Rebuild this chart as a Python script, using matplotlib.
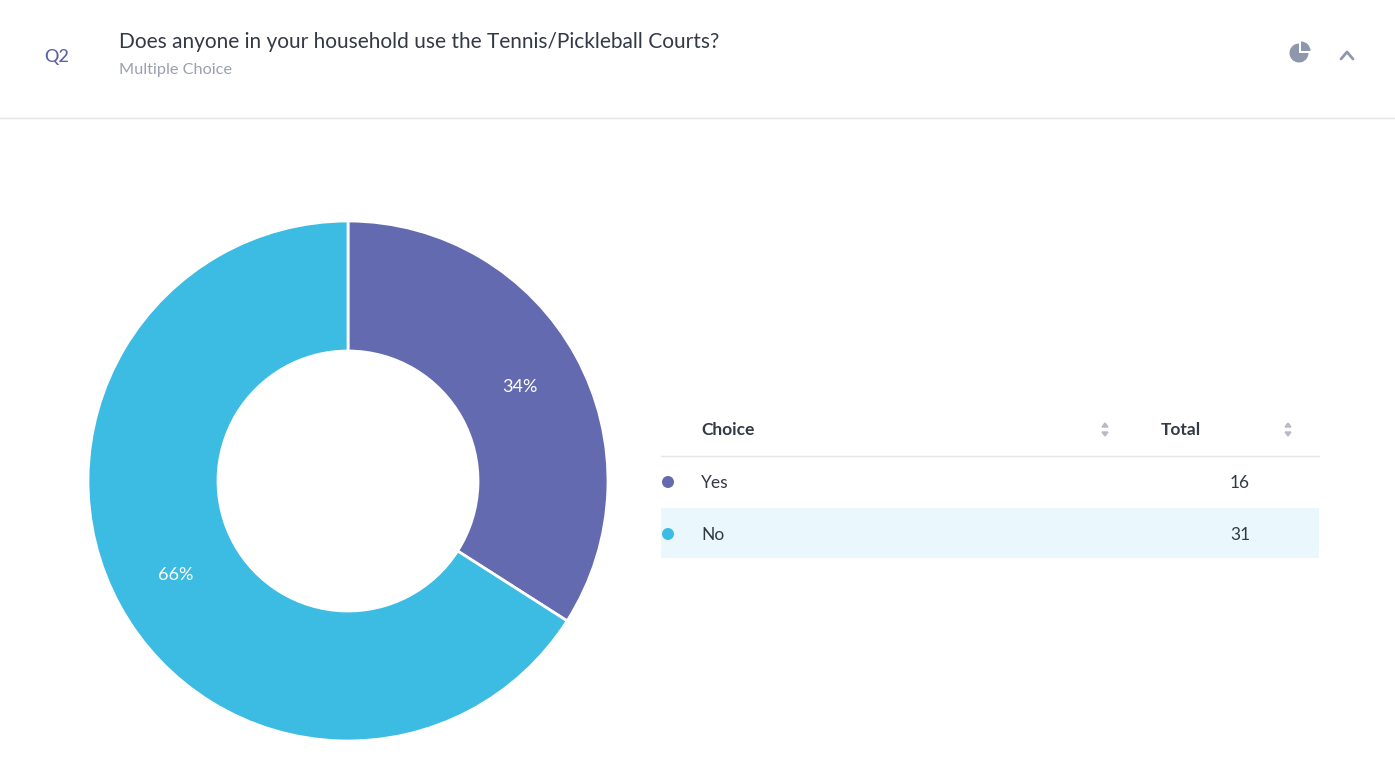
import matplotlib
matplotlib.use('Agg')
import matplotlib.pyplot as plt
from matplotlib.patches import Rectangle, Circle, Wedge, Polygon

W, H = 1395, 773

# data
choices = ['Yes', 'No']
totals = [16, 31]
colors = ['#646AAF', '#3CBBE3']
question_id = 'Q2'
question = 'Does anyone in your household use the Tennis/Pickleball Courts?'
question_type = 'Multiple Choice'

TEXT = '#333a45'
MUTED = '#9aa0b0'
LINE = '#e3e5e8'
ICON = '#8e97ab'

plt.rcParams['font.family'] = ['Lato', 'DejaVu Sans']

fig = plt.figure(figsize=(W / 100, H / 100), dpi=100)
fig.patch.set_facecolor('white')

# pixel-space overlay axes (y down)
ov = fig.add_axes([0, 0, 1, 1])
ov.set_xlim(0, W)
ov.set_ylim(H, 0)
ov.axis('off')

# header
ov.text(44, 57, question_id, fontsize=13, fontweight='medium', color='#5B62A8', va='center', ha='left')
ov.text(119, 42, question, fontsize=15, color=TEXT, va='center', ha='left')
ov.text(119, 70, question_type, fontsize=11.7, color=MUTED, va='center', ha='left')
ov.plot([0, W], [118, 118], color=LINE, lw=1)

# icons top-right (y axis inverted: data angle 270-360 is the visual upper-right quarter)
ov.add_patch(Wedge((1299, 53), 9.5, 0, 270, facecolor=ICON, edgecolor='none'))
ov.add_patch(Wedge((1301, 51), 9.5, 270, 360, facecolor=ICON, edgecolor='none'))
ov.plot([1341, 1347, 1353], [59, 52, 59], color=ICON, lw=2, solid_capstyle='round')

# donut chart
cx, cy, r = 348, 481, 260
pax = fig.add_axes([(cx - r) / W, (H - cy - r) / H, 2 * r / W, 2 * r / H])
wedges, _, autotexts = pax.pie(
    totals, colors=colors, startangle=90, counterclock=False,
    radius=1, autopct=lambda p: f'{p:.0f}%', pctdistance=0.755,
    wedgeprops=dict(width=0.5, edgecolor='white', linewidth=2),
    textprops=dict(color='white', fontsize=13))
pax.set_xlim(-1, 1)
pax.set_ylim(-1, 1)
pax.set_aspect('equal')
pax.axis('off')

# table
x0, x1 = 661, 1319
ov.text(701, 430, 'Choice', fontsize=12.5, fontweight='bold', color=TEXT, va='center')
ov.text(1161, 430, 'Total', fontsize=12.5, fontweight='bold', color=TEXT, va='center')
for sx in (1105, 1288):
    ov.add_patch(Polygon([[sx - 3, 427], [sx + 3, 427], [sx, 423]], color='#b5bac5'))
    ov.add_patch(Polygon([[sx - 3, 432], [sx + 3, 432], [sx, 436]], color='#b5bac5'))
ov.plot([x0, x1], [456, 456], color=LINE, lw=1)

row_h = 52
for i, (name, val, col) in enumerate(zip(choices, totals, colors)):
    yc = 482 + i * row_h
    if i % 2 == 1:
        ov.add_patch(Rectangle((x0, 508), x1 - x0, 50, facecolor='#eaf8fd', edgecolor='none'))
    ov.add_patch(Circle((668, yc), 6, facecolor=col, edgecolor='none'))
    ov.text(701, yc + 1, name, fontsize=12.5, color=TEXT, va='center')
    ov.text(1250, yc + 1, str(val), fontsize=12.5, color=TEXT, va='center', ha='right')

fig.savefig('out.png', dpi=100)
